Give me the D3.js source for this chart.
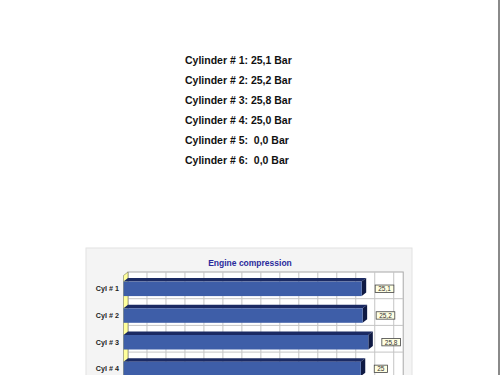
<!DOCTYPE html>
<html>
<head>
<meta charset="utf-8">
<script src="https://cdn.jsdelivr.net/npm/d3@7"></script>
<style>
    body { margin: 0; background: #fff; }
    svg { display: block; }
    text { font-family: "Liberation Sans", Arial, sans-serif; }
</style>
</head>
<body>
<div id="chart"></div>
<script>
// readings
const cylinders = ['Cyl # 1', 'Cyl # 2', 'Cyl # 3', 'Cyl # 4', 'Cyl # 5', 'Cyl # 6']
const pressures = [25.1, 25.2, 25.8, 25.0, 0.0, 0.0]
const chartTitle = 'Engine compression'
const unit = 'Bar'
const axisMax = 29

const W = 500, H = 375
const svg = d3.select('#chart').append('svg')
    .attr('width', W)
    .attr('height', H)

const comma = d3.formatLocale({ decimal: ',', thousands: '.', grouping: [3], currency: ['', ''] })
const fmtBox = comma.format('~g')
const fmtList = v => comma.format('.1f')(v).padStart(4, ' ')

// text list at the top
svg.append('g').selectAll('text')
    .data(pressures)
    .join('text')
    .attr('x', 185)
    .attr('y', (d, i) => 63.5 + i * 20)
    .attr('font-size', '10.5px')
    .attr('font-weight', 'bold')
    .attr('fill', '#111')
    .style('white-space', 'pre')
    .text((d, i) => `Cylinder # ${i + 1}: ${fmtList(d)} ${unit}`)

// right page border
svg.append('rect')
    .attr('x', 498).attr('y', 0)
    .attr('width', 2).attr('height', H)
    .attr('fill', '#8a8a8a')

// chart panel
svg.append('rect')
    .attr('x', 86).attr('y', 248)
    .attr('width', 326).attr('height', 160)
    .attr('fill', '#f4f4f4')
    .attr('stroke', '#e2e2e2')

svg.append('text')
    .attr('x', 250).attr('y', 265.5)
    .attr('text-anchor', 'middle')
    .attr('font-size', '8.5px')
    .attr('font-weight', 'bold')
    .attr('fill', '#2b2b9c')
    .text(chartTitle)

// 3d depth
const dx = 4.5, dy = 3.5

const x = d3.scaleLinear().domain([0, axisMax]).range([123.5, 123.5 + axisMax * 9.49])
const y = d3.scaleBand().domain(cylinders)
    .range([272, 272 + 26.7 * cylinders.length])
    .paddingInner(0.457).paddingOuter(0.228)

const top0 = 272
const bottom0 = 272 + 26.7 * cylinders.length

// back wall
svg.append('rect')
    .attr('x', x(0) + dx).attr('y', top0)
    .attr('width', x(axisMax) - x(0)).attr('height', bottom0 - top0)
    .attr('fill', '#fff')
    .attr('stroke', '#a8a8a8')

svg.append('g').selectAll('line')
    .data(x.ticks(15).filter(t => t > 0))
    .join('line')
    .attr('x1', d => x(d) + dx).attr('x2', d => x(d) + dx)
    .attr('y1', top0).attr('y2', bottom0)
    .attr('stroke', '#c4c4c4')

svg.append('g').selectAll('line')
    .data(cylinders.slice(1))
    .join('line')
    .attr('x1', x(0) + dx).attr('x2', x(axisMax) + dx)
    .attr('y1', d => y(d) - y.step() * y.paddingInner() / 2)
    .attr('y2', d => y(d) - y.step() * y.paddingInner() / 2)
    .attr('stroke', '#c4c4c4')

// left wall
svg.append('path')
    .attr('d', `M${x(0)},${top0 + dy}L${x(0) + dx},${top0}L${x(0) + dx},${bottom0}L${x(0)},${bottom0 + dy}Z`)
    .attr('fill', '#ffff9c')
    .attr('stroke', '#7a7a5a')
    .attr('stroke-width', 0.6)

// rows that fall inside the window (the chart runs on below it)
const fy = i => y(cylinders[i]) + dy
const bh = y.bandwidth()
const rows = pressures.map((v, i) => ({ v, i, name: cylinders[i] }))
    .filter(r => fy(r.i) < H)

const bars = svg.append('g').selectAll('g')
    .data(rows)
    .join('g')

bars.append('path')
    .attr('d', r => {
        const x0 = x(0), x1 = x(r.v), yy = fy(r.i)
        return `M${x0},${yy}L${x0 + dx},${yy - dy}L${x1 + dx},${yy - dy}L${x1},${yy}Z`
    })
    .attr('fill', '#1b2a63')

bars.append('path')
    .attr('d', r => {
        const x1 = x(r.v), yy = fy(r.i)
        return `M${x1},${yy}L${x1 + dx},${yy - dy}L${x1 + dx},${yy + bh - dy}L${x1},${yy + bh}Z`
    })
    .attr('fill', '#0f1a44')

bars.append('rect')
    .attr('x', x(0))
    .attr('y', r => fy(r.i))
    .attr('width', r => x(r.v) - x(0))
    .attr('height', bh)
    .attr('fill', '#3e5ea8')

// value boxes
bars.each(function (r) {
    const g = d3.select(this)
    const cy = fy(r.i) + bh / 2
    const t = g.append('text')
        .attr('x', x(r.v) + 16.5)
        .attr('y', cy + 2.3)
        .attr('font-size', '6.5px')
        .attr('fill', '#333')
        .text(fmtBox(r.v))
    const w = t.node().getComputedTextLength()
    g.insert('rect', 'text')
        .attr('x', x(r.v) + 13.5)
        .attr('y', cy - 3.8)
        .attr('width', w + 6)
        .attr('height', 7.4)
        .attr('fill', '#ffffe2')
        .attr('stroke', '#444')
        .attr('stroke-width', 0.8)
})

// category labels
svg.append('g').selectAll('text')
    .data(rows)
    .join('text')
    .attr('x', 119)
    .attr('y', r => fy(r.i) + bh / 2 + 2.5)
    .attr('text-anchor', 'end')
    .attr('font-size', '7.2px')
    .attr('font-weight', 'bold')
    .attr('fill', '#222')
    .text(r => r.name)
</script>
</body>
</html>
